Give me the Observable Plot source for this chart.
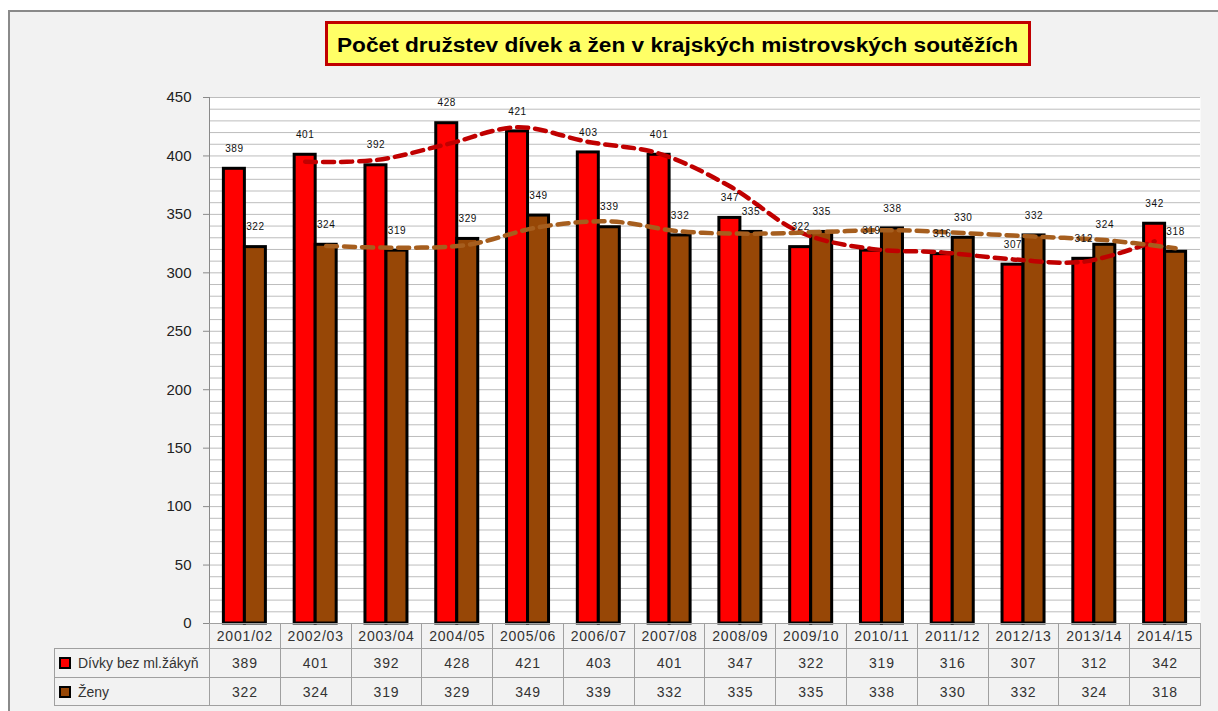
<!DOCTYPE html>
<html>
<head>
<meta charset="utf-8">
<script src="https://cdn.jsdelivr.net/npm/d3@7"></script>
<script src="https://cdn.jsdelivr.net/npm/@observablehq/plot@0.6"></script>
<style>
  html, body { margin: 0; padding: 0; background: #ffffff; }
  #root { position: relative; width: 1218px; height: 711px; overflow: hidden; background: #ffffff; font-family: "Liberation Sans", Arial, sans-serif; }
  #frame { position: absolute; left: 8px; top: 10px; width: 1230px; height: 720px; background: #f2f2f2; border: 2px solid #8a8a8a; box-sizing: border-box; }
  #chart { position: absolute; left: 0; top: 0; }
  #chart svg [aria-label="text"] text { letter-spacing: 0.6px; }
  #title { position: absolute; left: 325px; top: 21px; width: 706px; height: 45px; background: #ffff66; border: 3px solid #c00000; box-sizing: border-box; }
  #table { position: absolute; border-collapse: collapse; table-layout: fixed; font-size: 14px; color: #333; }
  #table td { border: 1px solid #a0a0a0; text-align: center; padding: 0; letter-spacing: 0.8px; white-space: nowrap; overflow: hidden; }
  #table td.blank { border-top: none; border-left: none; border-bottom: 1px solid #a0a0a0; }
  #table td.rowhead { text-align: left; padding-left: 4px; letter-spacing: 0; }
  .sw { display: inline-block; width: 8px; height: 8px; border: 2px solid #000; margin-right: 7px; vertical-align: -1px; }
</style>
</head>
<body>
<div id="root">
  <div id="frame"></div>
  <div id="chart"></div>
  <div id="title">
    <svg width="700" height="39" style="position:absolute;left:0;top:0">
      <text id="titleText" x="9" y="28" font-family="Liberation Sans, Arial, sans-serif" font-weight="bold" font-size="20" fill="#000" textLength="681" lengthAdjust="spacingAndGlyphs"></text>
    </svg>
  </div>
</div>
<script>
const titleLabel = "Počet družstev dívek a žen v krajských mistrovských soutěžích";
const categories = ["2001/02","2002/03","2003/04","2004/05","2005/06","2006/07","2007/08","2008/09","2009/10","2010/11","2011/12","2012/13","2013/14","2014/15"];
const divky = [389, 401, 392, 428, 421, 403, 401, 347, 322, 319, 316, 307, 312, 342];
const zeny  = [322, 324, 319, 329, 349, 339, 332, 335, 335, 338, 330, 332, 324, 318];
const seriesNames = ["Dívky bez ml.žákyň", "Ženy"];
const barColors = ["#ff0000", "#974706"];
const trendColors = ["#c00000", "#a65e1e"];

document.getElementById("titleText").textContent = titleLabel;

const dataD = categories.map((c, i) => ({cat: c, v: divky[i]}));
const dataZ = categories.map((c, i) => ({cat: c, v: zeny[i]}));

const half = 21;
const chart = Plot.plot({
  width: 1218,
  height: 640,
  marginLeft: 209,
  marginRight: 18,
  marginTop: 97,
  marginBottom: 17,
  style: {background: "transparent", fontFamily: "Liberation Sans, Arial, sans-serif", color: "#222"},
  x: {domain: categories, paddingInner: 0.4067, paddingOuter: 0.2034, round: false, axis: null},
  y: {domain: [0, 450], axis: null},
  marks: [
    Plot.frame({fill: "white", stroke: null}),
    Plot.gridY({interval: 10, stroke: "#bdbdbd", strokeOpacity: 1}),
    Plot.axisY({interval: 50, tickSize: 6, tickPadding: 12, fontSize: 15, stroke: "#8a8a8a", fill: "#222", label: null}),
    Plot.frame({anchor: "left", stroke: "#8a8a8a"}),
    Plot.barY(dataD, {x: "cat", y: "v", fill: barColors[0], stroke: "#000", strokeWidth: 3, insetRight: half}),
    Plot.barY(dataZ, {x: "cat", y: "v", fill: barColors[1], stroke: "#000", strokeWidth: 3, insetLeft: half}),
    Plot.line(dataD, Plot.windowY({k: 2, anchor: "end", strict: true}, {x: "cat", y: "v", dx: -half / 2, stroke: trendColors[0], strokeWidth: 4.5, strokeDasharray: "11,7", curve: "catmull-rom"})),
    Plot.line(dataZ, Plot.windowY({k: 2, anchor: "end", strict: true}, {x: "cat", y: "v", dx: half / 2, stroke: trendColors[1], strokeWidth: 4.5, strokeDasharray: "11,7", curve: "catmull-rom"})),
    Plot.text(dataD, {x: "cat", y: "v", text: "v", dx: -half / 2, dy: -20, fontSize: 10, fill: "#111"}),
    Plot.text(dataZ, {x: "cat", y: "v", text: "v", dx: half / 2, dy: -20, fontSize: 10, fill: "#111"})
  ]
});
document.getElementById("chart").appendChild(chart);

// Data table aligned to the x band scale
const xs = chart.scale("x");
const step = xs.step;
const left0 = 209;
const headW = left0 - 54;
const table = document.createElement("table");
table.id = "table";
table.style.left = "54px";
table.style.top = "623px";
table.style.width = (headW + step * categories.length) + "px";
const colgroup = document.createElement("colgroup");
const c0 = document.createElement("col"); c0.style.width = headW + "px"; colgroup.appendChild(c0);
categories.forEach(() => { const c = document.createElement("col"); c.style.width = step + "px"; colgroup.appendChild(c); });
table.appendChild(colgroup);

const tr0 = document.createElement("tr");
tr0.style.height = "25px";
const blank = document.createElement("td"); blank.className = "blank"; tr0.appendChild(blank);
categories.forEach(c => { const td = document.createElement("td"); td.textContent = c; tr0.appendChild(td); });
table.appendChild(tr0);

[divky, zeny].forEach((vals, s) => {
  const tr = document.createElement("tr");
  tr.style.height = s === 0 ? "29px" : "28px";
  const th = document.createElement("td");
  th.className = "rowhead";
  const sw = document.createElement("span"); sw.className = "sw"; sw.style.background = barColors[s];
  th.appendChild(sw);
  th.appendChild(document.createTextNode(seriesNames[s]));
  tr.appendChild(th);
  vals.forEach(v => { const td = document.createElement("td"); td.textContent = v; tr.appendChild(td); });
  table.appendChild(tr);
});
document.getElementById("root").appendChild(table);
</script>
</body>
</html>
